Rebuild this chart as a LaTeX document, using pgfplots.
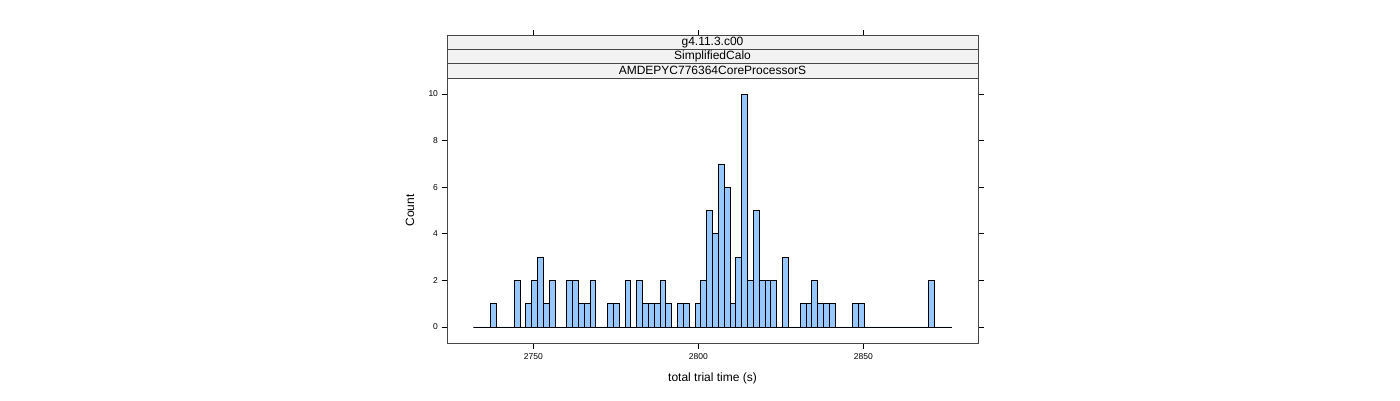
\documentclass[border=0pt]{standalone}
\usepackage{pgfplots}
\pgfplotsset{compat=1.18}
\usepackage{fontspec}
\setmainfont{Liberation Sans}

\definecolor{barfill}{RGB}{150,200,255}
\definecolor{stripfill}{RGB}{242,242,242}
\definecolor{frame}{RGB}{70,70,70}

% counts per bin, left edges; the last row is the right edge of the last bin
\pgfplotstableread{
x y
2731.82 0
2733.59 0
2735.36 0
2737.12 1
2738.89 0
2740.66 0
2742.43 0
2744.20 2
2745.96 0
2747.73 1
2749.50 2
2751.27 3
2753.04 1
2754.80 2
2756.57 0
2758.34 0
2760.11 2
2761.88 2
2763.64 1
2765.41 1
2767.18 2
2768.95 0
2770.72 0
2772.48 1
2774.25 1
2776.02 0
2777.79 2
2779.56 0
2781.32 2
2783.09 1
2784.86 1
2786.63 1
2788.40 2
2790.16 1
2791.93 0
2793.70 1
2795.47 1
2797.24 0
2799.00 1
2800.77 2
2802.54 5
2804.31 4
2806.08 7
2807.84 6
2809.61 1
2811.38 3
2813.15 10
2814.92 2
2816.68 5
2818.45 2
2820.22 2
2821.99 2
2823.76 0
2825.52 3
2827.29 0
2829.06 0
2830.83 1
2832.60 1
2834.36 2
2836.13 1
2837.90 1
2839.67 1
2841.44 0
2843.20 0
2844.97 0
2846.74 1
2848.51 1
2850.28 0
2852.04 0
2853.81 0
2855.58 0
2857.35 0
2859.12 0
2860.88 0
2862.65 0
2864.42 0
2866.19 0
2867.96 0
2869.72 2
2871.49 0
2873.26 0
2875.03 0
2876.80 0
}\trialtimes

\begin{document}
\begin{tikzpicture}
\useasboundingbox (0pt,0pt) rectangle (1400pt,400pt);
\begin{axis}[
	at={(447pt,57pt)}, anchor=south west,
	scale only axis, width=531pt, height=265pt,
	xmin=2723.85, xmax=2884.75,
	ymin=-0.69, ymax=10.69,
	clip=false,
	axis line style={frame, line width=0.9pt},
	tick style={black, line width=0.8pt},
	tick align=outside,
	major tick length=5.5pt,
	xtick={2750,2800,2850},
	ytick={0,2,4,6,8,10},
	xtick pos=bottom,
	ytick pos=both,
	yticklabel pos=left,
	ticklabel style={font=\fontsize{8.5}{10}\selectfont},
	xticklabel style={yshift=-1.5pt},
	/pgf/number format/1000 sep={},
	/pgf/number format/assume math mode=true,
	xlabel={total trial time (s)},
	ylabel={Count},
	label style={font=\fontsize{12}{14}\selectfont},
	xlabel style={at={(axis description cs:0.5,-0.132)}, anchor=center},
	ylabel style={at={(axis description cs:-0.0697,0.5)}, anchor=center, rotate=0},
]
\addplot[ybar interval, fill=barfill, draw=black, line width=0.8pt] table[x=x, y=y] {\trialtimes};
% tick marks above the strips
\foreach \t in {2750,2800,2850} {
	\edef\temp{\noexpand\draw[black, line width=0.8pt] (axis cs:\t,10.69) ++(0pt,43pt) -- ++(0pt,5.5pt);}
	\temp
}
\end{axis}
% strips
\begin{scope}[draw=frame, line width=0.9pt, font=\fontsize{12}{14}\selectfont]
\draw[fill=stripfill] (447pt,322pt) rectangle (978pt,336.33pt);
\draw[fill=stripfill] (447pt,336.33pt) rectangle (978pt,350.67pt);
\draw[fill=stripfill] (447pt,350.67pt) rectangle (978pt,365pt);
\node at (712.5pt,329.17pt) {AMDEPYC776364CoreProcessorS};
\node at (712.5pt,343.5pt) {SimplifiedCalo};
\node at (712.5pt,357.83pt) {g4.11.3.c00};
\end{scope}
\end{tikzpicture}
\end{document}
